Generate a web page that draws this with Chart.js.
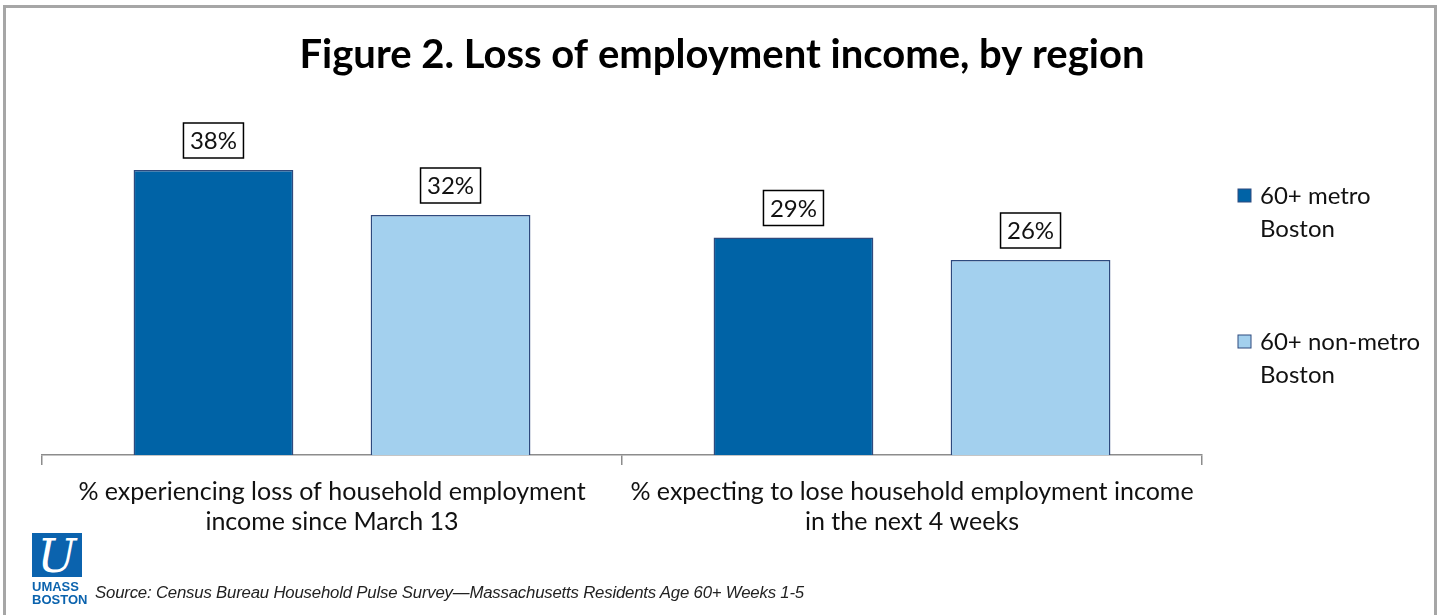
<!DOCTYPE html>
<html>
<head>
<meta charset="utf-8">
<script src="https://cdn.jsdelivr.net/npm/chart.js@4/dist/chart.umd.min.js"></script>
<style>
  html, body { margin: 0; padding: 0; background: #fff; }
  #wrap { position: relative; width: 1442px; height: 615px; overflow: hidden; }
  #frame { position: absolute; left: 3px; top: 5px; width: 1434px; height: 640px; border: 3px solid #a6a6a6; box-sizing: border-box; }
  canvas { position: absolute; left: 0; top: 0; }
  #logo { position: absolute; left: 32px; top: 533px; width: 52px; }
  #logo .sq { width: 50px; height: 44px; background: #0b63ae; color: #fff; font: italic 46px "DejaVu Serif", serif; line-height: 46px; text-align: center; overflow: hidden; }
  #logo .txt { color: #0b63ae; font: bold 13px "Liberation Sans Narrow", "Liberation Sans", sans-serif; line-height: 13px; margin-top: 3px; }
  #source { position: absolute; left: 95px; top: 583px; font: italic 16.8px "Liberation Sans Narrow", "Liberation Sans", sans-serif; color: #222; letter-spacing: -0.2px; }
</style>
</head>
<body>
<div id="wrap">
  <div id="frame"></div>
  <canvas id="chart" width="1442" height="615"></canvas>
  <div id="logo"><div class="sq">U</div><div class="txt">UMASS<br>BOSTON</div></div>
  <div id="source">Source: Census Bureau Household Pulse Survey—Massachusetts Residents Age 60+ Weeks 1-5</div>
</div>
<script>
const categories = [
  ["% experiencing loss of household employment", "income since March 13"],
  ["% expecting to lose household employment income", "in the next 4 weeks"]
];
const seriesNames = [["60+ metro", "Boston"], ["60+ non-metro", "Boston"]];
const metroValues = [38, 29];
const nonMetroValues = [32, 26];
const colors = ["#0063a6", "#a3d0ee"];
const titleText = "Figure 2. Loss of employment income, by region";
const FONT = "Lato, 'Open Sans', sans-serif";

// title centred on the whole page
const pageTitle = {
  id: "pageTitle",
  afterDraw(chart) {
    const ctx = chart.ctx;
    ctx.save();
    ctx.font = "bold 40px " + FONT;
    ctx.fillStyle = "#000";
    ctx.textAlign = "center";
    ctx.textBaseline = "middle";
    ctx.fillText(titleText, 722, 55);
    ctx.restore();
  }
};

// boxed value labels above each bar
const valueBoxes = {
  id: "valueBoxes",
  afterDatasetsDraw(chart) {
    const ctx = chart.ctx;
    ctx.save();
    ctx.font = "24px " + FONT;
    ctx.textAlign = "center";
    ctx.textBaseline = "middle";
    chart.data.datasets.forEach((ds, i) => {
      chart.getDatasetMeta(i).data.forEach((bar, j) => {
        const w = 60, h = 35;
        const cx = bar.x, by = bar.y - 12;
        ctx.fillStyle = "#fff";
        ctx.fillRect(cx - w / 2, by - h, w, h);
        ctx.strokeStyle = "#000";
        ctx.lineWidth = 1.5;
        ctx.strokeRect(cx - w / 2, by - h, w, h);
        ctx.fillStyle = "#111";
        ctx.fillText(ds.data[j] + "%", cx, by - h / 2 + 1);
      });
    });
    ctx.restore();
  }
};

// legend on the right with wrapped names
const sideLegend = {
  id: "sideLegend",
  afterDraw(chart) {
    const ctx = chart.ctx;
    ctx.save();
    ctx.font = "24px " + FONT;
    ctx.textBaseline = "middle";
    const tops = [196, 342];
    chart.data.datasets.forEach((ds, i) => {
      const y = tops[i];
      ctx.fillStyle = ds.backgroundColor;
      ctx.fillRect(1238, y - 7, 13, 13);
      ctx.strokeStyle = "#2e4a7e";
      ctx.lineWidth = 1;
      ctx.strokeRect(1238, y - 7, 13, 13);
      ctx.fillStyle = "#111";
      seriesNames[i].forEach((line, k) => ctx.fillText(line, 1260, y + k * 33));
    });
    ctx.restore();
  }
};

new Chart(document.getElementById("chart"), {
  type: "bar",
  data: {
    labels: categories,
    datasets: [
      { label: seriesNames[0].join(" "), data: metroValues, backgroundColor: colors[0], borderColor: "#2e4a7e", borderWidth: 1.5 },
      { label: seriesNames[1].join(" "), data: nonMetroValues, backgroundColor: colors[1], borderColor: "#2e4a7e", borderWidth: 1.5 }
    ]
  },
  options: {
    responsive: false,
    animation: false,
    categoryPercentage: 0.8175,
    barPercentage: 0.674,
    layout: { padding: { left: 42, right: 240, top: 155, bottom: 66 } },
    plugins: {
      legend: { display: false },
      tooltip: { enabled: false },
      title: { display: false }
    },
    scales: {
      y: { display: false, min: 0, max: 40 },
      x: {
        border: { display: true, color: "#8c8c8c", width: 1.5 },
        grid: { display: true, drawOnChartArea: false, offset: true, tickLength: 10, color: "#8c8c8c", lineWidth: 1.5 },
        ticks: { color: "#111", font: { family: FONT, size: 25, lineHeight: 1.2 }, padding: 12, maxRotation: 0 }
      }
    }
  },
  plugins: [valueBoxes, sideLegend, pageTitle]
});
</script>
</body>
</html>
